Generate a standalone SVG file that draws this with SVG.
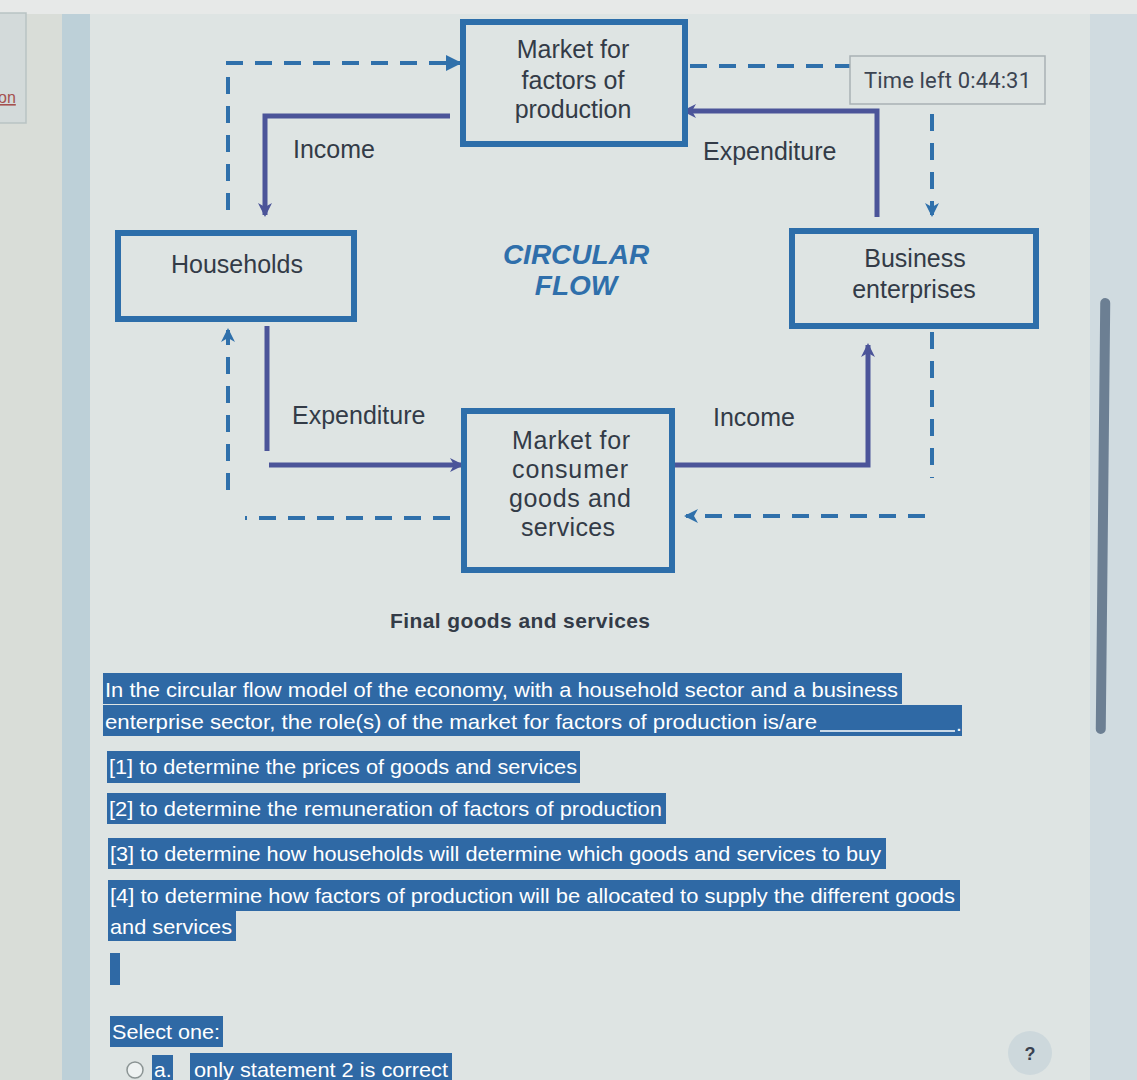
<svg xmlns="http://www.w3.org/2000/svg" width="1137" height="1080" viewBox="0 0 1137 1080">
<style>
.box{fill:none;stroke:#2d6eaa;stroke-width:6}
.lbl{font-family:"Liberation Sans",Arial,sans-serif;font-size:25px;fill:#333b47}
.cf{font-family:"Liberation Sans",Arial,sans-serif;font-size:28px;font-weight:bold;font-style:italic;fill:#2f6fab}
.solid{fill:none;stroke:#4b5499;stroke-width:5}
.dash{fill:none;stroke:#2f70ab;stroke-width:4;stroke-dasharray:17 12}
.hl{fill:#2f69a5}
.q{font-family:"Liberation Sans",Arial,sans-serif;font-size:21px;fill:#ffffff}
</style>
<defs>
<marker id="ahS" markerWidth="18" markerHeight="18" refX="14" refY="9" orient="auto" markerUnits="userSpaceOnUse">
<path d="M2,2 L16,9 L2,16 L6,9 z" fill="#4b5499"/>
</marker>
<marker id="ahD" markerWidth="18" markerHeight="18" refX="14" refY="9" orient="auto" markerUnits="userSpaceOnUse">
<path d="M2,2 L16,9 L2,16 L6,9 z" fill="#2f70ab"/>
</marker>
<marker id="ahF" markerWidth="20" markerHeight="20" refX="16" refY="10" orient="auto" markerUnits="userSpaceOnUse">
<path d="M2,2 L18,10 L2,18 z" fill="#2f70ab"/>
</marker>
</defs>
<!-- background -->
<rect x="0" y="0" width="1137" height="1080" fill="#dee4e3"/>
<rect x="0" y="0" width="62" height="1080" fill="#d9ddd8"/>
<rect x="62" y="12" width="28" height="1068" fill="#bdd0d8"/>
<rect x="1090" y="12" width="47" height="1068" fill="#d0dbe0"/>
<rect x="0" y="0" width="1137" height="14" fill="#e7e9e8"/>
<rect x="-2" y="13" width="28" height="110" fill="#d3dada" stroke="#b9c3c3" stroke-width="1.5"/>
<text x="-2" y="103" font-family="Liberation Sans,Arial,sans-serif" font-size="16" fill="#a5504f" text-decoration="underline">on</text>
<rect x="1098" y="298" width="10" height="436" rx="5" fill="#6c7f93" transform="rotate(0.6 1103 516)"/>

<!-- connectors -->
<g id="connectors">
<path class="solid" d="M450,116 H265 V215" marker-end="url(#ahS)"/>
<path class="solid" d="M877,217 V111 H684" marker-end="url(#ahS)"/>
<path class="solid" d="M267,326 V451 M269,465 H462" marker-end="url(#ahS)"/>
<path class="solid" d="M674,465 H868 V345" marker-end="url(#ahS)"/>
<path class="dash" d="M228,210 V63 H460" marker-end="url(#ahF)"/>
<path class="dash" d="M690,66 H932 V215" marker-end="url(#ahD)"/>
<path class="dash" d="M932,332 V478 M925,516 H686" marker-end="url(#ahD)"/>
<path class="dash" d="M450,518 H245 M228,490 V330" marker-end="url(#ahD)"/>
</g>

<!-- nodes -->
<g id="factors-market">
<rect class="box" x="463" y="22" width="222" height="122" fill="#dee4e3"/>
<text class="lbl" x="573" y="58" text-anchor="middle">Market for</text>
<text class="lbl" x="573" y="89" text-anchor="middle">factors of</text>
<text class="lbl" x="573" y="118" text-anchor="middle">production</text>
</g>
<g id="households">
<rect class="box" x="118" y="233" width="236" height="86"/>
<text class="lbl" x="237" y="273" text-anchor="middle">Households</text>
</g>
<g id="business">
<rect class="box" x="792" y="231" width="244" height="95"/>
<text class="lbl" x="915" y="267" text-anchor="middle">Business</text>
<text class="lbl" x="914" y="298" text-anchor="middle">enterprises</text>
</g>
<g id="consumer-market">
<rect class="box" x="464" y="411" width="208" height="159"/>
<text class="lbl" x="571" y="449" text-anchor="middle" textLength="118">Market for</text>
<text class="lbl" x="570" y="478" text-anchor="middle" textLength="116">consumer</text>
<text class="lbl" x="570" y="507" text-anchor="middle" textLength="122">goods and</text>
<text class="lbl" x="568" y="536" text-anchor="middle" textLength="94">services</text>
</g>
<g id="labels">
<text class="lbl" x="293" y="158">Income</text>
<text class="lbl" x="703" y="160">Expenditure</text>
<text class="lbl" x="292" y="424">Expenditure</text>
<text class="lbl" x="713" y="426">Income</text>
<text class="cf" x="576" y="264" text-anchor="middle">CIRCULAR</text>
<text class="cf" x="576" y="295" text-anchor="middle">FLOW</text>
<text x="520" y="628" text-anchor="middle" font-family="Liberation Sans,Arial,sans-serif" font-size="21" font-weight="bold" fill="#333b47" textLength="260">Final goods and services</text>
</g>
<g id="timer">
<rect x="850" y="56" width="195" height="48" fill="#dee4e3" stroke="#a9b1b5" stroke-width="1.5"/>
<text x="864" y="88" font-family="Roboto,Liberation Sans,sans-serif" font-size="22" fill="#3c4452" textLength="167">Time left 0:44:31</text>
</g>

<!-- question -->
<g id="question">
<rect class="hl" x="103" y="673" width="799" height="31"/>
<text class="q" x="105" y="697" textLength="793" lengthAdjust="spacingAndGlyphs">In the circular flow model of the economy, with a household sector and a business</text>
<rect class="hl" x="103" y="705" width="859" height="31"/>
<text class="q" x="105" y="729" textLength="712" lengthAdjust="spacingAndGlyphs">enterprise sector, the role(s) of the market for factors of production is/are</text>
<line x1="820" y1="731" x2="955" y2="731" stroke="#ffffff" stroke-width="1.5"/>
<text class="q" x="956" y="731">.</text>
<rect class="hl" x="107" y="751" width="473" height="32"/>
<text class="q" x="109" y="774" textLength="468" lengthAdjust="spacingAndGlyphs">[1] to determine the prices of goods and services</text>
<rect class="hl" x="107" y="793" width="559" height="31"/>
<text class="q" x="109" y="816" textLength="553" lengthAdjust="spacingAndGlyphs">[2] to determine the remuneration of factors of production</text>
<rect class="hl" x="108" y="838" width="778" height="31"/>
<text class="q" x="110" y="861" textLength="771" lengthAdjust="spacingAndGlyphs">[3] to determine how households will determine which goods and services to buy</text>
<rect class="hl" x="108" y="880" width="852" height="31"/>
<text class="q" x="110" y="903" textLength="845" lengthAdjust="spacingAndGlyphs">[4] to determine how factors of production will be allocated to supply the different goods</text>
<rect class="hl" x="108" y="911" width="128" height="30"/>
<text class="q" x="110" y="934" textLength="122" lengthAdjust="spacingAndGlyphs">and services</text>
<rect class="hl" x="110" y="953" width="10" height="32"/>
<rect class="hl" x="110" y="1016" width="113" height="31"/>
<text class="q" x="112" y="1039" textLength="108" lengthAdjust="spacingAndGlyphs">Select one:</text>
<circle cx="135" cy="1070" r="8" fill="#eef2f2" stroke="#8b9494" stroke-width="1.5"/>
<rect class="hl" x="152" y="1055" width="21" height="25"/>
<text class="q" x="154" y="1077">a.</text>
<rect class="hl" x="190" y="1053" width="262" height="27"/>
<text class="q" x="194" y="1077" textLength="254" lengthAdjust="spacingAndGlyphs">only statement 2 is correct</text>
</g>
<g id="help">
<circle cx="1030" cy="1053" r="22" fill="#cdd8dc"/>
<text x="1030" y="1060" text-anchor="middle" font-family="Liberation Sans,Arial,sans-serif" font-size="18" font-weight="bold" fill="#3a4250">?</text>
</g>
</svg>
